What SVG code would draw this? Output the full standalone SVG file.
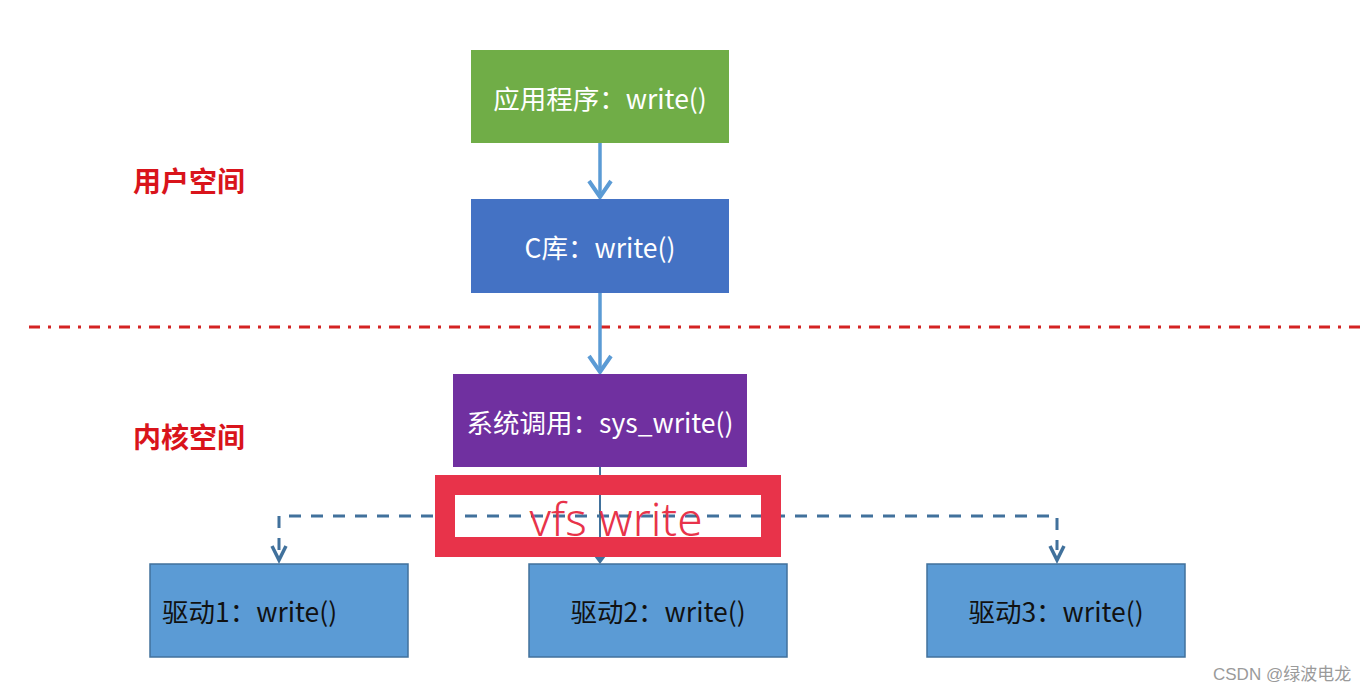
<svg xmlns="http://www.w3.org/2000/svg" width="1365" height="692" viewBox="0 0 1365 692">
<style>
.t{font-family:"Noto Sans CJK SC","Noto Sans",sans-serif;font-size:26.5px;dominant-baseline:central}
.w{fill:#ffffff}
.d{fill:#111111}
.lbl{font-family:"Noto Sans CJK SC",sans-serif;font-size:28px;font-weight:bold;fill:#d9141b;dominant-baseline:central}
.drv{fill:#5b9bd5;stroke:#41719c;stroke-width:1.5}
.solid{stroke:#5b9bd5;stroke-width:3.5;fill:none}
.dash{stroke:#41719c;stroke-width:3;fill:none;stroke-dasharray:12 10}
.head{fill:none;stroke:#5b9bd5;stroke-width:4}
.dhead{fill:none;stroke:#41719c;stroke-width:3.5}
</style>
<rect width="1365" height="692" fill="#ffffff"/>
<line x1="29" y1="327" x2="1365" y2="327" stroke="#d42323" stroke-width="3" stroke-dasharray="11 8 3 8"/>
<text class="lbl" x="133" y="180">用户空间</text>
<text class="lbl" x="133" y="436">内核空间</text>
<g id="connectors">
<line class="solid" x1="600" y1="143" x2="600" y2="193"/>
<path class="head" d="M589,181 L600,197 L611,181"/>
<line class="solid" x1="600" y1="293" x2="600" y2="368"/>
<path class="head" d="M589,356 L600,372 L611,356"/>
<line x1="600" y1="467" x2="600" y2="560" stroke="#41719c" stroke-width="2"/>
<path d="M594,556 L600,564 L606,556" fill="#41719c"/>
<path class="dash" d="M279,550 L279,516 L1057,516 L1057,550"/>
<path class="dhead" d="M272,546 L279,560 L286,546"/>
<path class="dhead" d="M1050,546 L1057,560 L1064,546"/>
</g>
<g id="app">
<rect x="471" y="50" width="258" height="93" fill="#70ad47"/>
<text class="t w" x="600" y="97" text-anchor="middle">应用程序：write()</text>
</g>
<g id="clib">
<rect x="471" y="199" width="258" height="94" fill="#4472c4"/>
<text class="t w" x="600" y="246" text-anchor="middle">C库：write()</text>
</g>
<g id="syscall">
<rect x="453" y="374" width="294" height="93" fill="#7030a0"/>
<text class="t w" x="600" y="421" text-anchor="middle">系统调用：sys_write()</text>
</g>
<g id="vfs">
<rect x="445" y="485" width="326" height="62" fill="none" stroke="#e8334a" stroke-width="20"/>
<text x="616" y="518" text-anchor="middle" font-family="Noto Sans, sans-serif" font-size="46" font-weight="300" fill="#e8334a" dominant-baseline="central">vfs write</text>
</g>
<g id="drv1">
<rect class="drv" x="150" y="564" width="258" height="93"/>
<text class="t d" x="162" y="610">驱动1：write()</text>
</g>
<g id="drv2">
<rect class="drv" x="529" y="564" width="258" height="93"/>
<text class="t d" x="658" y="610" text-anchor="middle">驱动2：write()</text>
</g>
<g id="drv3">
<rect class="drv" x="927" y="564" width="258" height="93"/>
<text class="t d" x="1056" y="610" text-anchor="middle">驱动3：write()</text>
</g>
<text x="1213" y="674" font-family="Liberation Sans, Noto Sans CJK SC, sans-serif" font-size="17" fill="#9a9a9a" dominant-baseline="central">CSDN @绿波电龙</text>
</svg>
